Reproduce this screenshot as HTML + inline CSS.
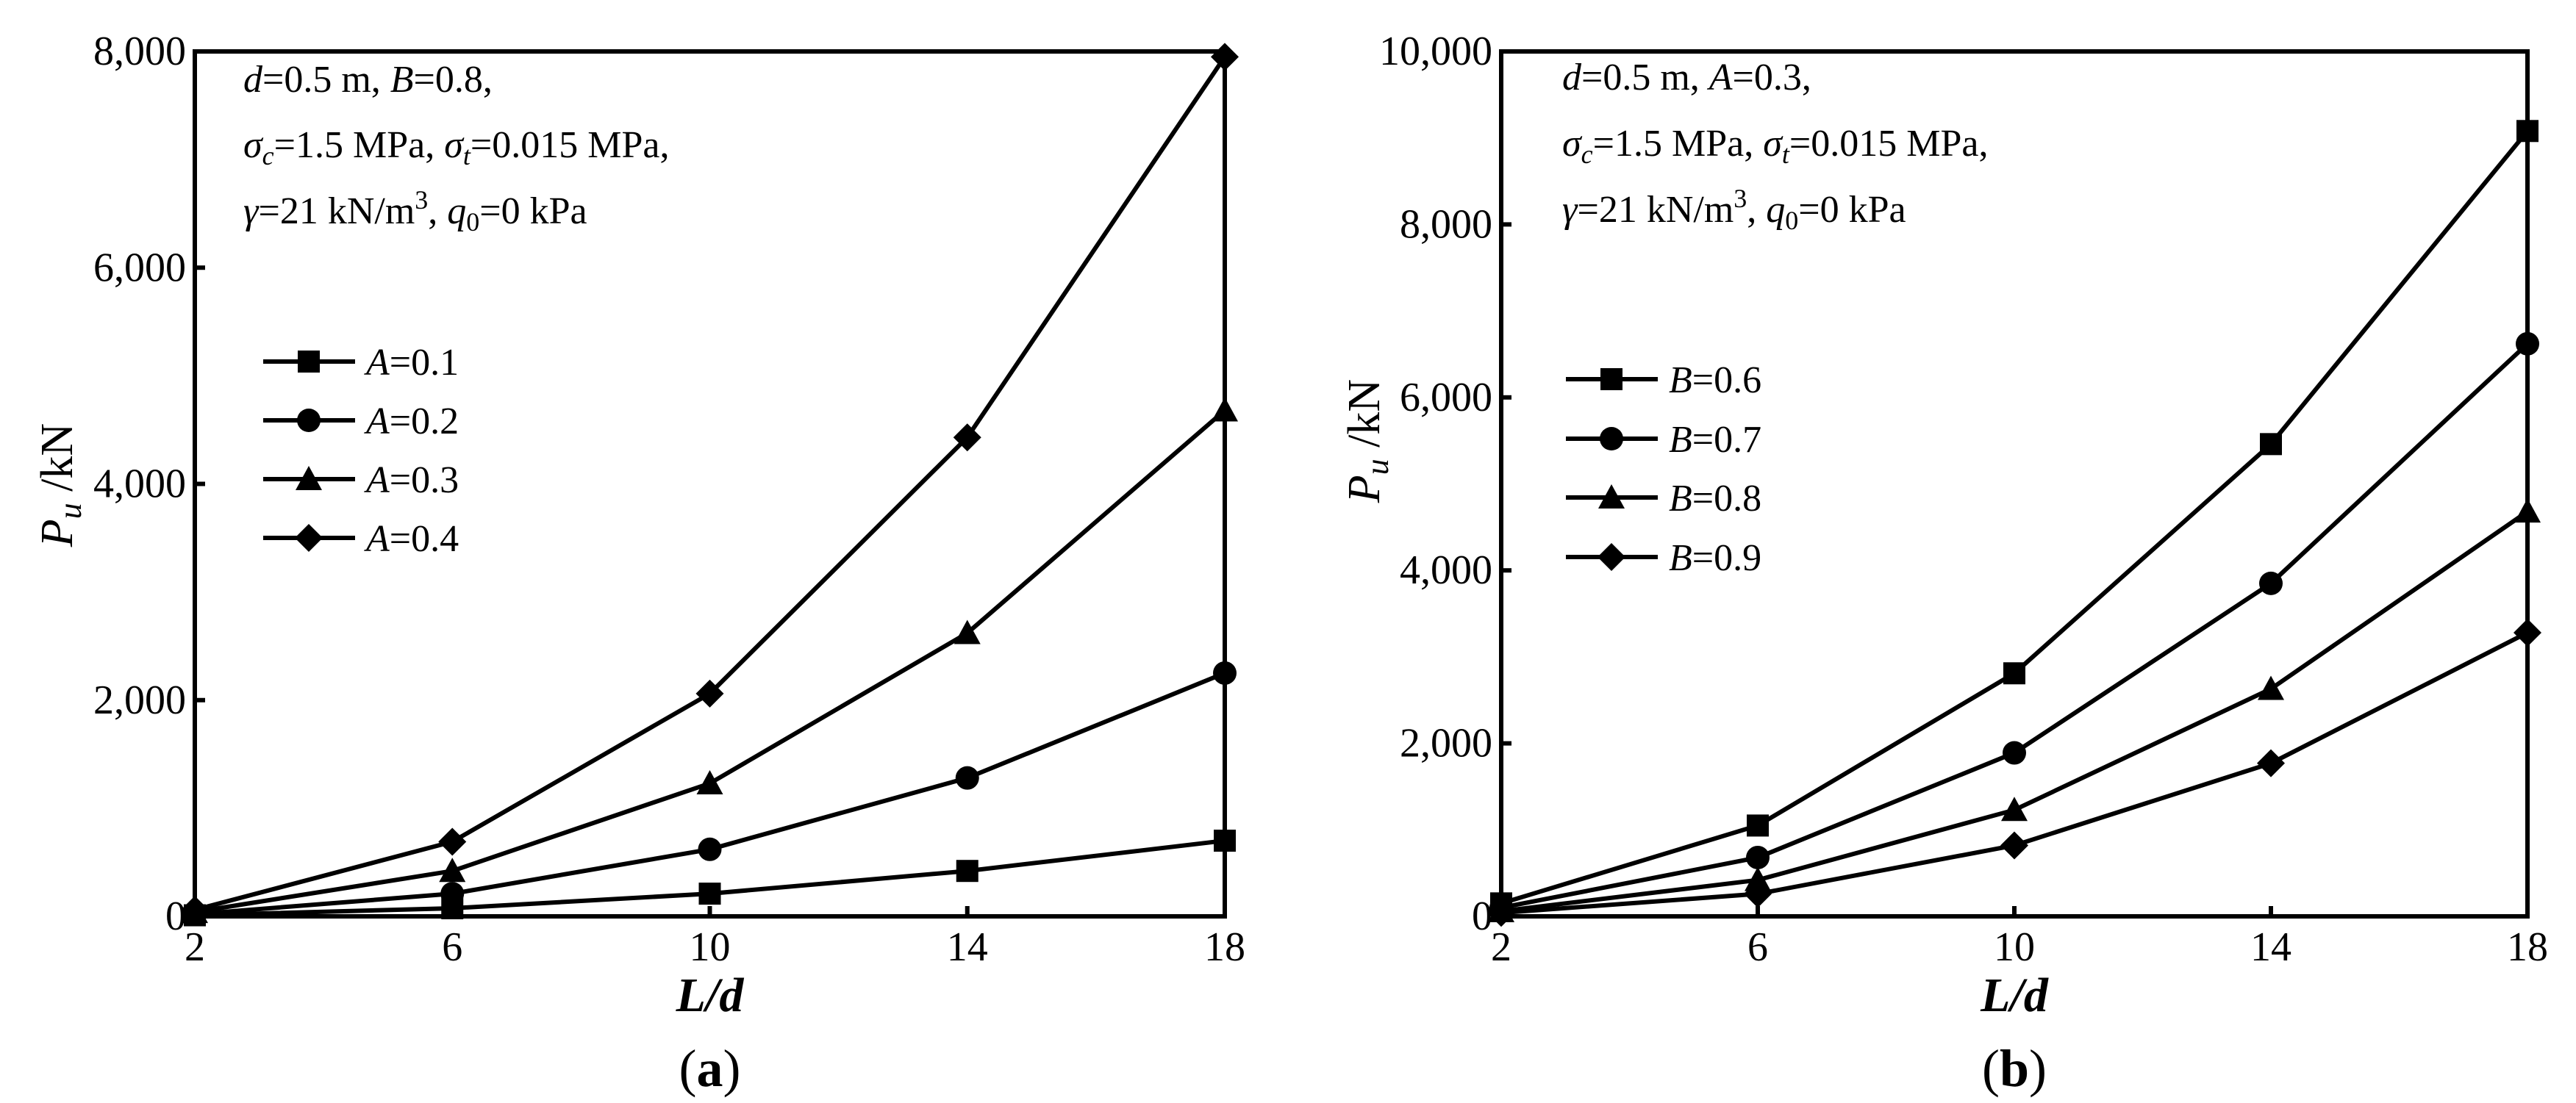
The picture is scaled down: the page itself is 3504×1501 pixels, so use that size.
<!DOCTYPE html>
<html><head><meta charset="utf-8"><style>
html,body{margin:0;padding:0;background:#fff;}
svg{display:block;font-family:"Liberation Serif",serif;}
</style></head><body>
<svg id="fig" width="3504" height="1501" viewBox="0 0 3504 1501" xmlns="http://www.w3.org/2000/svg"></svg>
<script>
const xCats = [2, 6, 10, 14, 18];
const xTicks = [2, 6, 10, 14, 18];
const aTicks = [0, 2000, 4000, 6000, 8000];
const bTicks = [0, 2000, 4000, 6000, 8000, 10000];
const aNames = ["0.1", "0.2", "0.3", "0.4"];
const aS1 = [10, 75, 210, 420, 700];
const aS2 = [20, 210, 620, 1280, 2250];
const aS3 = [40, 420, 1230, 2620, 4680];
const aS4 = [60, 690, 2060, 4430, 7950];
const bNames = ["0.6", "0.7", "0.8", "0.9"];
const bS1 = [150, 1050, 2810, 5460, 9080];
const bS2 = [100, 680, 1890, 3850, 6620];
const bS3 = [60, 420, 1230, 2630, 4680];
const bS4 = [40, 260, 820, 1770, 3280];
const markers = ["square", "circle", "triangle", "diamond"];

const NS = "http://www.w3.org/2000/svg";
const svg = document.getElementById("fig");
function mk(tag, attrs, parent) {
  const e = document.createElementNS(NS, tag);
  for (const k in attrs) e.setAttribute(k, attrs[k]);
  (parent || svg).appendChild(e);
  return e;
}
function fmt(v){ return v.toLocaleString("en-US"); }

function panel(cfg) {
  const g = mk("g", {});
  
  
  const L = cfg.L, R = cfg.R, T = 70, B = 1247;
  const xs = v => L + (v - 2) / 16 * (R - L);
  const ys = v => B - v / cfg.ymax * (B - T);
  cfg.series.forEach((s, i) => {
    const sg = mk("g", {}, g);
    
    
    const pts = xCats.map((x, j) => xs(x) + "," + ys(s.vals[j])).join(" ");
    mk("polyline", {points: pts, fill: "none", stroke: "#000", "stroke-width": 6, "stroke-linejoin": "miter"}, sg);
    xCats.forEach((x, j) => {
      const m = marker(markers[i], xs(x), ys(s.vals[j]), sg);
      
      
    });
  });
  const fr = mk("rect", {x: L, y: T, width: R - L, height: B - T, fill: "none", stroke: "#000", "stroke-width": 6}, g);
  
  
  xTicks.forEach(t => {
    mk("line", {x1: xs(t), x2: xs(t), y1: B, y2: B - 14, stroke: "#000", "stroke-width": 6}, g);
    const tx = mk("text", {x: xs(t), y: 1307, "text-anchor": "middle", "font-size": 56}, g);
    tx.textContent = t;
    
    
  });
  cfg.yticks.forEach(t => {
    mk("line", {x1: L, x2: L + 14, y1: ys(t), y2: ys(t), stroke: "#000", "stroke-width": 6}, g);
    const tx = mk("text", {x: L - 12, y: ys(t) + 18, "text-anchor": "end", "font-size": 56}, g);
    tx.textContent = fmt(t);
    
    
  });
  const xt = mk("text", {x: (L + R) / 2, y: 1376, "text-anchor": "middle", "font-size": 66, "font-weight": "bold", "font-style": "italic"}, g);
  xt.textContent = "L/d";
  
  
  const yt = mk("text", {x: 0, y: 0, "text-anchor": "middle", "font-size": 62, transform: `translate(${cfg.ytx},${cfg.yty}) rotate(-90)`}, g);
  yt.innerHTML = '<tspan font-style="italic">P</tspan><tspan font-style="italic" font-size="44" dy="12">u</tspan><tspan dy="-12"> /kN</tspan>';
  
  
  const cap = mk("text", {x: (L + R) / 2, y: 1478, "text-anchor": "middle", "font-size": 72}, g);
  cap.innerHTML = '(<tspan font-weight="bold">' + cfg.id.slice(-1) + '</tspan>)';
  
  
  const ann = mk("g", {}, g);
  
  
  const ax = cfg.annX, fs = 52;
  let t1 = mk("text", {x: ax, y: cfg.annY[0], "font-size": fs}, ann);
  t1.innerHTML = cfg.line1;
  let t2 = mk("text", {x: ax, y: cfg.annY[1], "font-size": fs}, ann);
  t2.innerHTML = '<tspan font-style="italic">σ</tspan><tspan font-style="italic" font-size="36" dy="10">c</tspan><tspan dy="-10">=1.5 MPa, </tspan><tspan font-style="italic">σ</tspan><tspan font-style="italic" font-size="36" dy="10">t</tspan><tspan dy="-10">=0.015 MPa,</tspan>';
  let t3 = mk("text", {x: ax, y: cfg.annY[2], "font-size": fs}, ann);
  t3.innerHTML = '<tspan font-style="italic">γ</tspan>=21 kN/m<tspan font-size="36" dy="-20">3</tspan><tspan dy="20">, </tspan><tspan font-style="italic">q</tspan><tspan font-size="36" dy="10">0</tspan><tspan dy="-10">=0 kPa</tspan>';
  const lg = mk("g", {}, g);
  
  
  cfg.series.forEach((s, i) => {
    const y = cfg.legY[i];
    const eg = mk("g", {}, lg);
    
    
    mk("line", {x1: cfg.legX, x2: cfg.legX + 125, y1: y, y2: y, stroke: "#000", "stroke-width": 6}, eg);
    marker(markers[i], cfg.legX + 62, y, eg);
    const lt = mk("text", {x: cfg.legX + 140, y: y + 18, "font-size": 52}, eg);
    lt.innerHTML = '<tspan font-style="italic">' + cfg.letter + '</tspan>=' + s.name;
  });
}
function marker(type, x, y, p) {
  const r = 15;
  if (type === "square") return mk("rect", {x: x - r, y: y - r, width: 2 * r, height: 2 * r, fill: "#000"}, p);
  if (type === "circle") return mk("circle", {cx: x, cy: y, r: r + 1, fill: "#000"}, p);
  if (type === "triangle") return mk("polygon", {points: `${x},${y - r - 3} ${x + r + 3},${y + r} ${x - r - 3},${y + r}`, fill: "#000"}, p);
  return mk("polygon", {points: `${x},${y - r - 4} ${x + r + 4},${y} ${x},${y + r + 4} ${x - r - 4},${y}`, fill: "#000"}, p);
}
panel({id: "chart-a", letter: "A", L: 265, R: 1666, ymax: 8000, yticks: aTicks,
  series: [{name: aNames[0], vals: aS1}, {name: aNames[1], vals: aS2}, {name: aNames[2], vals: aS3}, {name: aNames[3], vals: aS4}],
  annX: 331, annY: [125, 214, 304], legX: 358, legY: [492, 572, 652, 732], ytx: 98, yty: 660,
  line1: '<tspan font-style="italic">d</tspan>=0.5 m, <tspan font-style="italic">B</tspan>=0.8,'});
panel({id: "chart-b", letter: "B", L: 2042, R: 3438, ymax: 10000, yticks: bTicks,
  series: [{name: bNames[0], vals: bS1}, {name: bNames[1], vals: bS2}, {name: bNames[2], vals: bS3}, {name: bNames[3], vals: bS4}],
  annX: 2125, annY: [122, 212, 302], legX: 2130, legY: [516, 597, 677, 758], ytx: 1876, yty: 600,
  line1: '<tspan font-style="italic"> d</tspan>=0.5 m, <tspan font-style="italic">A</tspan>=0.3,'});
</script>
</body></html>
